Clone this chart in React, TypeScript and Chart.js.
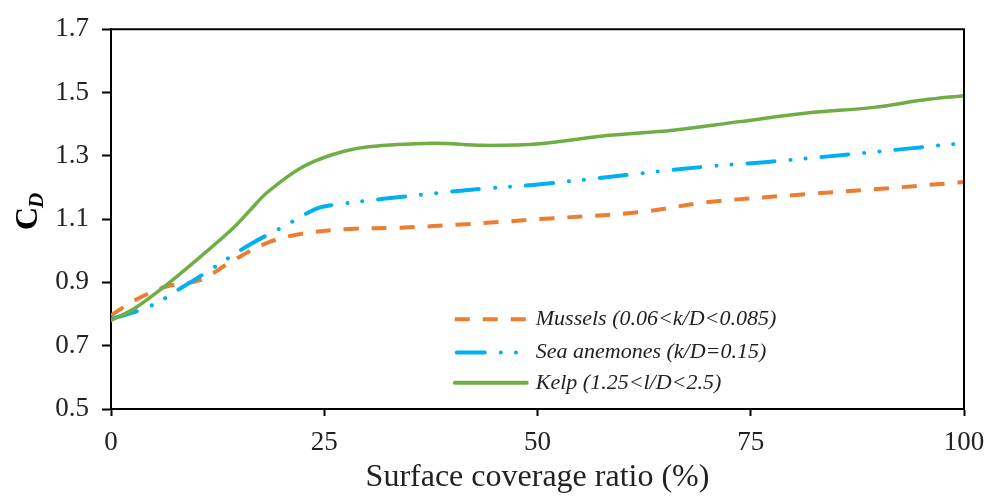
import React, { useEffect, useRef } from "react";
import { Chart, registerables } from "chart.js";

Chart.register(...registerables);

const musselsX = [0, 2.6, 6.5, 10.4, 14.3, 18.3, 22.2, 28, 33.9, 41.7, 50.3, 62, 69.8, 81.6, 89.4, 100];
const musselsY = [0.795, 0.841, 0.887, 0.907, 0.969, 1.025, 1.053, 1.069, 1.073, 1.084, 1.1, 1.122, 1.153, 1.179, 1.194, 1.217];

const anemonesX = [0, 4.6, 8.5, 12.4, 16.3, 20.2, 24.1, 26.1, 31.9, 37.8, 43.6, 50.3, 62, 69.8, 77.6, 89.4, 98, 100];
const anemonesY = [0.784, 0.825, 0.887, 0.953, 1.02, 1.076, 1.133, 1.145, 1.164, 1.181, 1.196, 1.21, 1.244, 1.266, 1.282, 1.312, 1.335, 1.34];

const kelpX = [0, 2.6, 6.5, 10.4, 14.3, 16.3, 18.3, 22.2, 26.1, 30, 37.8, 43.6, 50.3, 58.1, 65.9, 73.7, 81.6, 89.4, 95.2, 100];
const kelpY = [0.78, 0.815, 0.892, 0.979, 1.071, 1.128, 1.184, 1.261, 1.305, 1.328, 1.34, 1.333, 1.338, 1.364, 1.381, 1.408, 1.435, 1.453, 1.476, 1.49];

const seriesLabels = [
  "Mussels (0.06<k/D<0.085)",
  "Sea anemones (k/D=0.15)",
  "Kelp (1.25<l/D<2.5)",
];
const seriesColors = ["#ED7D31", "#00B0F0", "#70AD47"];
const seriesDashes: number[][] = [[15, 13], [27, 16, 0.1, 15, 0.1, 16], []];
const legendDashes: number[][] = [[15, 13], [28, 16, 0.1, 15, 0.1, 20], []];
const seriesCaps: CanvasLineCap[] = ["butt", "round", "round"];

const xTickValues = [0, 25, 50, 75, 100];
const xTitle = "Surface coverage ratio (%)";
const yTitleMain = "C";
const yTitleSub = "D";

const SERIF = "'Liberation Serif', 'Times New Roman', serif";

function zip(xs: number[], ys: number[]) {
  return xs.map((x, i) => ({ x, y: ys[i] }));
}

const framePlugin = {
  id: "frameAndExtras",
  afterDatasetsDraw(chart: any) {
    const { ctx, chartArea } = chart;
    const { left, right, top, bottom } = chartArea;
    ctx.save();
    // frame
    ctx.strokeStyle = "#000";
    ctx.lineWidth = 2;
    ctx.setLineDash([]);
    ctx.beginPath();
    ctx.moveTo(left, top);
    ctx.lineTo(right, top);
    ctx.lineTo(right, bottom);
    ctx.stroke();

    // legend
    const w = right - left;
    const h = bottom - top;
    const lx0 = left + 0.403 * w;
    const lx1 = lx0 + 72;
    const rows = [top + 0.764 * h, top + 0.851 * h, top + 0.931 * h];
    chart.data.datasets.forEach((ds: any, i: number) => {
      const y = rows[i];
      ctx.strokeStyle = seriesColors[i];
      ctx.lineWidth = 4;
      ctx.lineCap = seriesCaps[i];
      ctx.setLineDash(legendDashes[i]);
      ctx.beginPath();
      ctx.moveTo(lx0 + (i === 1 ? 2 : 0), y);
      ctx.lineTo(lx1, y);
      ctx.stroke();
      ctx.setLineDash([]);
      ctx.fillStyle = "#222";
      ctx.font = `italic 22px ${SERIF}`;
      ctx.textAlign = "left";
      ctx.textBaseline = "middle";
      ctx.fillText(ds.label, lx1 + 9, y);
    });

    // y title C_D
    ctx.translate(37, 230);
    ctx.rotate(-Math.PI / 2);
    ctx.fillStyle = "#000";
    ctx.textAlign = "left";
    ctx.textBaseline = "alphabetic";
    ctx.font = `bold 32px ${SERIF}`;
    ctx.fillText(yTitleMain, 0, 0);
    const cw = ctx.measureText(yTitleMain).width;
    ctx.font = `italic bold 21px ${SERIF}`;
    ctx.fillText(yTitleSub, cw - 1, 6);
    ctx.restore();
  },
};

export default function App() {
  const ref = useRef<HTMLCanvasElement | null>(null);
  useEffect(() => {
    if (!ref.current) return;
    const chart = new Chart(ref.current, {
      type: "line",
      data: {
        datasets: [
          { label: seriesLabels[0], data: zip(musselsX, musselsY) },
          { label: seriesLabels[1], data: zip(anemonesX, anemonesY) },
          { label: seriesLabels[2], data: zip(kelpX, kelpY) },
        ].map((d, i) => ({
          ...d,
          borderColor: seriesColors[i],
          backgroundColor: seriesColors[i],
          borderWidth: i === 2 ? 3.5 : 4,
          borderDash: seriesDashes[i],
          borderCapStyle: seriesCaps[i],
          pointRadius: 0,
          fill: false,
          tension: 0.35,
          order: 3 - i,
        })),
      },
      options: {
        animation: false,
        responsive: false,
        maintainAspectRatio: false,
        layout: { padding: { left: 0, right: 34, top: 19, bottom: 0 } },
        plugins: { legend: { display: false }, tooltip: { enabled: false } },
        scales: {
          x: {
            type: "linear",
            min: 0,
            max: 100,
            afterBuildTicks: (scale: any) => {
              scale.ticks = xTickValues.map((v) => ({ value: v }));
            },
            afterFit: (scale: any) => {
              scale.height = 88;
            },
            grid: {
              drawOnChartArea: false,
              drawTicks: true,
              tickLength: 7,
              tickColor: "#000",
              tickWidth: 2,
            },
            border: { color: "#000", width: 2 },
            ticks: {
              color: "#222",
              font: { family: SERIF, size: 27 },
              padding: 11,
              maxRotation: 0,
            },
            title: {
              display: true,
              text: xTitle,
              color: "#222",
              font: { family: SERIF, size: 32 },
              padding: { top: 0, bottom: 0 },
            },
          },
          y: {
            type: "linear",
            min: 0.5,
            max: 1.7,
            afterFit: (scale: any) => {
              scale.width = 111;
            },
            grid: {
              drawOnChartArea: false,
              drawTicks: true,
              tickLength: 9,
              tickColor: "#000",
              tickWidth: 2,
            },
            border: { color: "#000", width: 2 },
            ticks: {
              stepSize: 0.2,
              color: "#222",
              font: { family: SERIF, size: 27 },
              padding: 13,
              callback: (v: any) => Number(v).toFixed(1),
            },
          },
        },
      },
      plugins: [framePlugin],
    });
    return () => chart.destroy();
  }, []);
  return (
    <div style={{ position: "fixed", left: 0, top: 0, width: 998, height: 497, background: "#fff" }}>
      <canvas ref={ref} width={998} height={497} style={{ width: 998, height: 497 }} />
    </div>
  );
}
